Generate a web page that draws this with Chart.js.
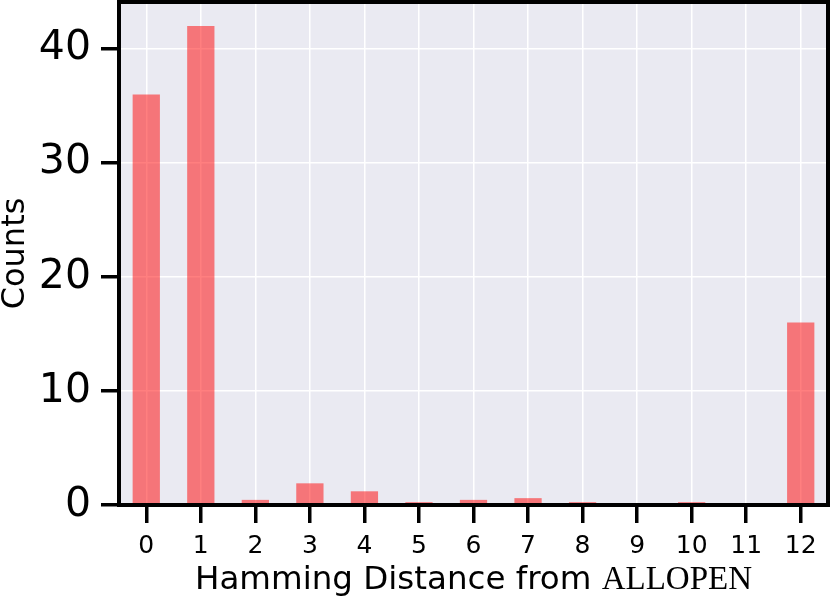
<!DOCTYPE html>
<html lang="en">
<head>
    <meta charset="UTF-8">
    <title>Hamming Distance from ALLOPEN</title>
    <script src="https://cdn.jsdelivr.net/npm/chart.js"></script>
    <style>
        body {
            margin: 0;
            background: #ffffff;
        }
        .chart-container {
            width: 830px;
            height: 600px;
        }
    </style>
</head>
<body>
    <div class="chart-container">
        <canvas id="hamming-chart" width="830" height="600"></canvas>
    </div>

    <script>
        // distances on the x axis and the counts
        const distances = ['0', '1', '2', '3', '4', '5', '6', '7', '8', '9', '10', '11', '12'];
        const counts = [36, 42, 0.45, 1.9, 1.2, 0.25, 0.45, 0.6, 0.25, 0, 0.25, 0, 16];
        const yTicks = [0, 10, 20, 30, 40];

        // grey panel behind the bars, black frame and the mixed-font x title
        const panelPlugin = {
            id: 'panel',
            beforeDraw(chart) {
                const { ctx, chartArea: a } = chart;
                ctx.save();
                ctx.fillStyle = '#EAEAF2';
                ctx.fillRect(a.left, a.top, a.right - a.left, a.bottom - a.top);
                ctx.restore();
            },
            afterDraw(chart) {
                const { ctx, chartArea: a } = chart;
                ctx.save();
                ctx.strokeStyle = '#000';
                ctx.lineWidth = 4;
                ctx.strokeRect(a.left, a.top, a.right - a.left, a.bottom - a.top);

                // "Hamming Distance from " in sans, "ALLOPEN" in serif
                const part1 = 'Hamming Distance from ';
                const part2 = 'ALLOPEN';
                const font1 = '32.5px "DejaVu Sans"';
                const font2 = '33px "Liberation Serif"';
                ctx.font = font1;
                const w1 = ctx.measureText(part1).width;
                ctx.font = font2;
                const w2 = ctx.measureText(part2).width;
                const x0 = (a.left + a.right) / 2 - (w1 + w2) / 2;
                const y = 589;
                ctx.fillStyle = '#000';
                ctx.textBaseline = 'alphabetic';
                ctx.textAlign = 'left';
                ctx.font = font1;
                ctx.fillText(part1, x0, y);
                ctx.font = font2;
                ctx.fillText(part2, x0 + w1, y);
                ctx.restore();
            }
        };

        const ctx = document.getElementById('hamming-chart').getContext('2d');
        new Chart(ctx, {
            type: 'bar',
            data: {
                labels: distances,
                datasets: [{
                    label: 'Counts',
                    data: counts,
                    backgroundColor: 'rgba(255, 0, 0, 0.5)',
                    borderWidth: 0,
                    barPercentage: 0.5,
                    categoryPercentage: 1.0
                }]
            },
            options: {
                responsive: false,
                animation: false,
                layout: {
                    padding: { top: 2, right: 2, bottom: 0, left: 0 }
                },
                plugins: {
                    legend: { display: false },
                    tooltip: { enabled: false }
                },
                scales: {
                    x: {
                        offset: true,
                        afterFit: scale => {
                            scale.height = 95;
                        },
                        grid: {
                            offset: false,
                            color: '#ffffff',
                            lineWidth: 1.5,
                            tickColor: '#000',
                            tickWidth: 3.5,
                            tickLength: 18
                        },
                        border: { display: false },
                        ticks: {
                            color: '#000',
                            padding: 8,
                            font: { family: 'DejaVu Sans', size: 25 }
                        }
                    },
                    y: {
                        min: 0,
                        max: 44.1,
                        afterBuildTicks: axis => {
                            axis.ticks = yTicks.map(v => ({ value: v }));
                        },
                        afterFit: scale => {
                            scale.width = 119;
                            scale.paddingTop = 0;
                        },
                        grid: {
                            color: '#ffffff',
                            lineWidth: 1.5,
                            tickColor: '#000',
                            tickWidth: 3.5,
                            tickLength: 18
                        },
                        border: { display: false },
                        ticks: {
                            color: '#000',
                            padding: 10,
                            font: { family: 'DejaVu Sans', size: 41 }
                        },
                        title: {
                            display: true,
                            text: 'Counts',
                            color: '#000',
                            padding: { top: 0, bottom: 0 },
                            font: { family: 'DejaVu Sans', size: 32, lineHeight: 1 }
                        }
                    }
                }
            },
            plugins: [panelPlugin]
        });
    </script>
</body>
</html>
